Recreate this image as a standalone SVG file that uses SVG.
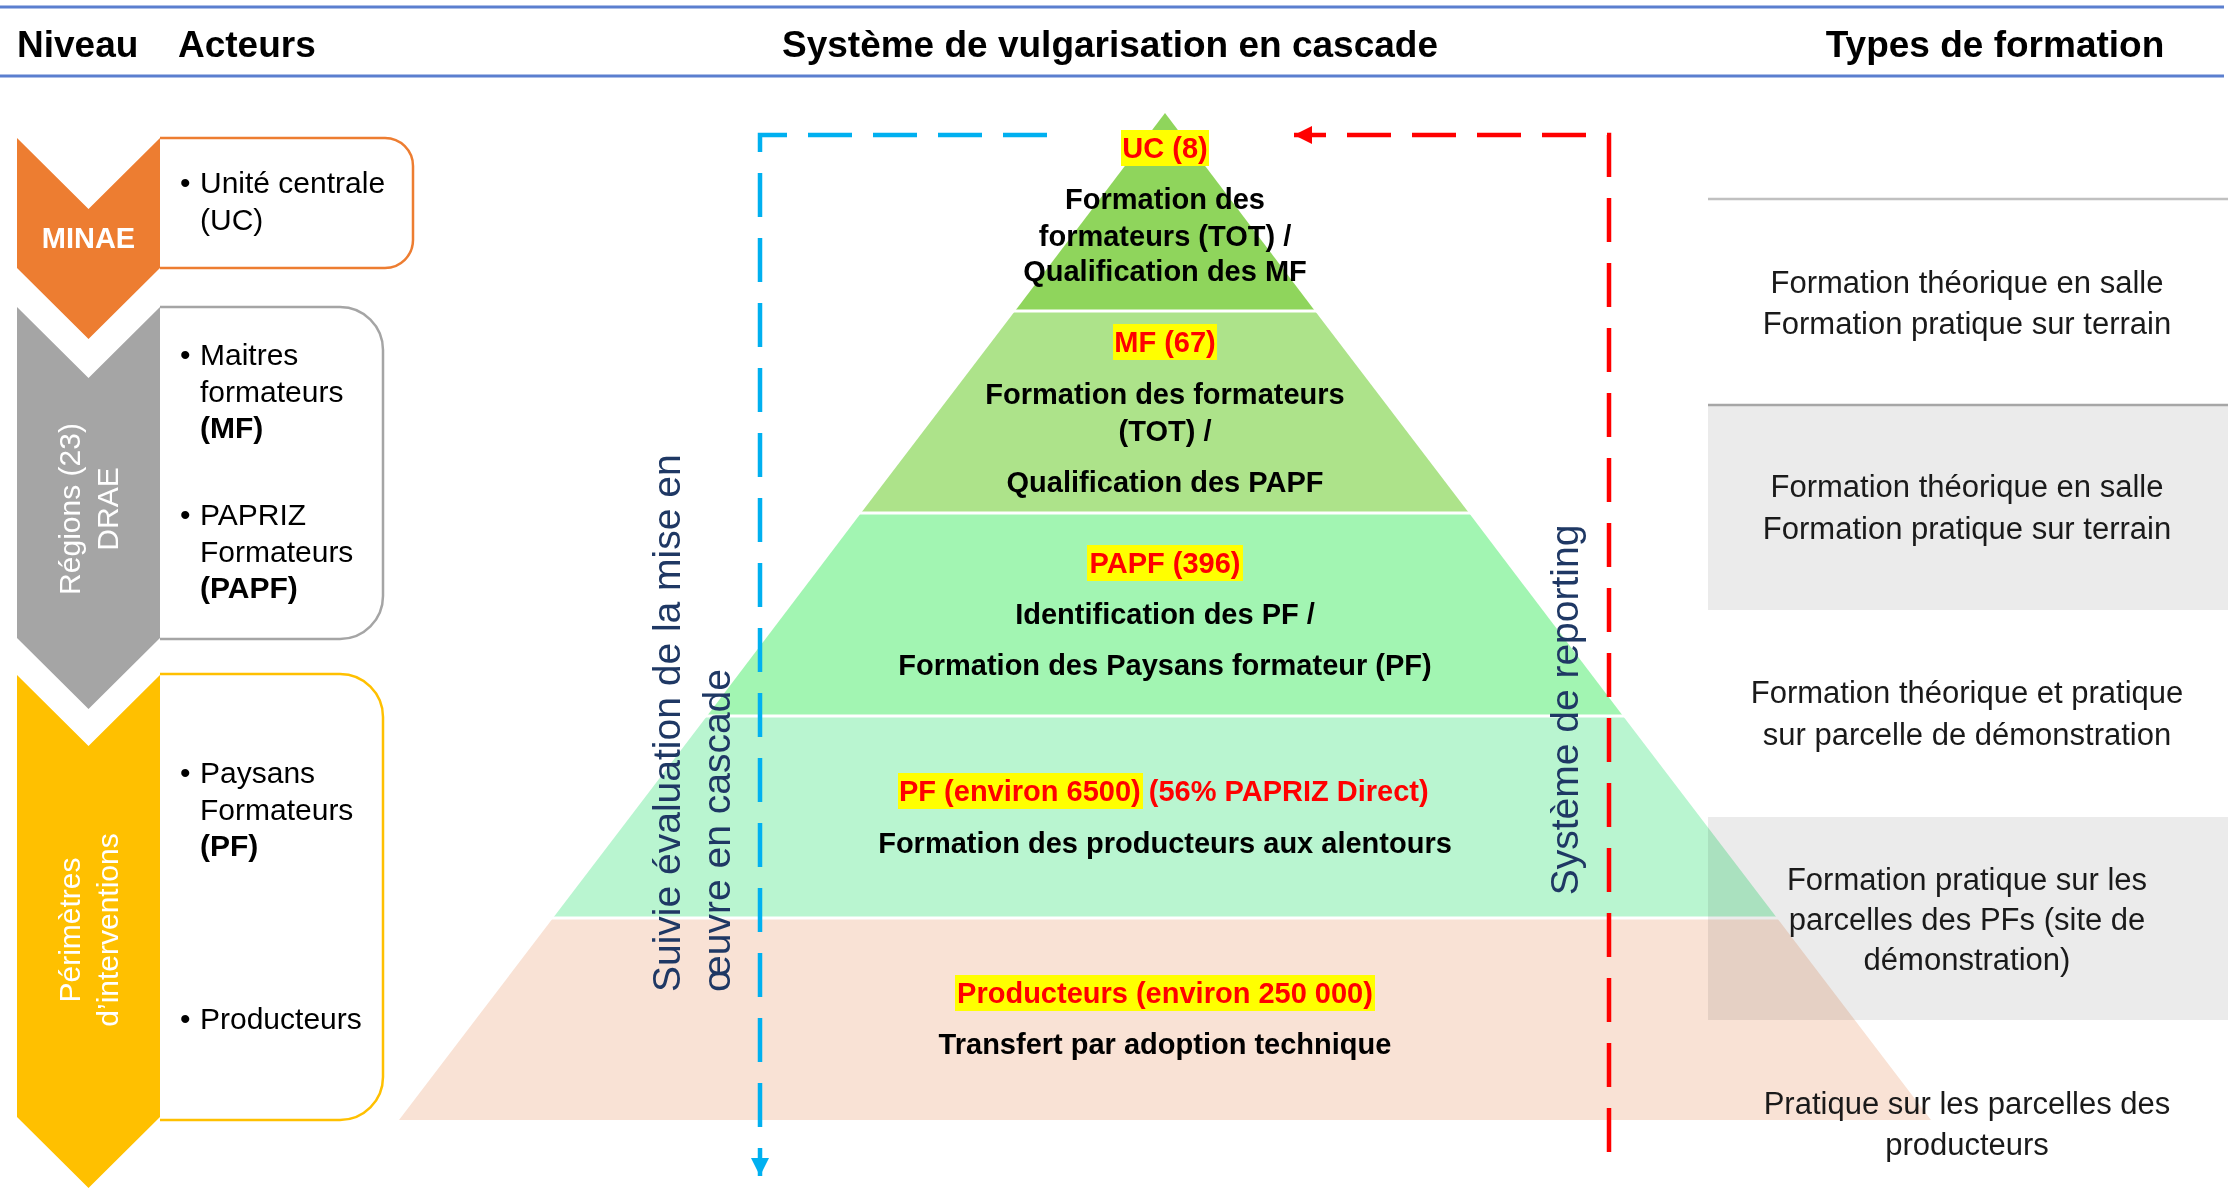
<svg xmlns="http://www.w3.org/2000/svg" width="2228" height="1197" viewBox="0 0 2228 1197">
<style>
  text { font-family: "Liberation Sans", Arial, sans-serif; }
  .hdr { font-size: 37px; font-weight: bold; fill: #000; }
  .act { font-size: 30px; fill: #000; }
  .b { font-weight: bold; }
  .lvl { font-size: 30px; fill: #fff; text-anchor: middle; }
  .pt { font-size: 29px; font-weight: bold; fill: #000; text-anchor: middle; }
  .ptl { font-size: 29px; font-weight: bold; text-anchor: start; }
  .red { fill: #ff0000; }
  .hl { fill: #ffff00; }
  .rt { font-size: 31px; fill: #1a1a1a; text-anchor: middle; }
  .vt { font-size: 39px; fill: #1f3864; }
  .gbox { fill: #ebebeb; mix-blend-mode: multiply; }
  .sep { stroke: #ffffff; stroke-width: 3; }
</style>
<defs>
  <marker id="arrBlue" viewBox="0 0 10 10" refX="10" refY="5" markerWidth="18" markerHeight="18" markerUnits="userSpaceOnUse" orient="auto">
    <path d="M0,0 L10,5 L0,10 z" fill="#00b0f0"/>
  </marker>
  <marker id="arrRed" viewBox="0 0 10 10" refX="10" refY="5" markerWidth="18" markerHeight="18" markerUnits="userSpaceOnUse" orient="auto">
    <path d="M0,0 L10,5 L0,10 z" fill="#ff0000"/>
  </marker>
</defs>

<!-- header -->
<g id="header">
  <line x1="0" y1="7" x2="2224" y2="7" stroke="#5b7fcf" stroke-width="3"/>
  <line x1="0" y1="76" x2="2224" y2="76" stroke="#5b7fcf" stroke-width="3"/>
  <text class="hdr" x="17" y="57">Niveau</text>
  <text class="hdr" x="178" y="57">Acteurs</text>
  <text class="hdr" x="1110" y="57" text-anchor="middle">Système de vulgarisation en cascade</text>
  <text class="hdr" x="1995" y="57" text-anchor="middle">Types de formation</text>
</g>

<!-- pyramid -->
<g id="pyramid">
  <polygon id="tier-uc" points="1165,113 1315,311 1015,311" fill="#8fd55c"/>
  <polygon id="tier-mf" points="1015,311 1315,311 1469,513 861,513" fill="#ade38a"/>
  <polygon id="tier-papf" points="861,513 1469,513 1623,716 707,716" fill="#a2f5b2"/>
  <polygon id="tier-pf" points="707,716 1623,716 1777,918 553,918" fill="#b9f5d0"/>
  <polygon id="tier-prod" points="553,918 1777,918 1931,1120 399,1120" fill="#f9e2d5"/>
  <line class="sep" x1="1010" y1="311" x2="1320" y2="311"/>
  <line class="sep" x1="856" y1="513" x2="1474" y2="513"/>
  <line class="sep" x1="702" y1="716" x2="1628" y2="716"/>
  <line class="sep" x1="548" y1="918" x2="1782" y2="918"/>
</g>

<!-- right column: types de formation -->
<g id="types">
  <line x1="1708" y1="199" x2="2228" y2="199" stroke="#c0c0c0" stroke-width="2.5"/>
  <rect class="gbox" x="1708" y="405" width="520" height="205"/>
  <line x1="1708" y1="405" x2="2228" y2="405" stroke="#a6a6a6" stroke-width="2.5"/>
  <rect class="gbox" x="1708" y="817" width="520" height="203"/>
  <g id="type1">
    <text class="rt" x="1967" y="293">Formation théorique en salle</text>
    <text class="rt" x="1967" y="334">Formation pratique sur terrain</text>
  </g>
  <g id="type2">
    <text class="rt" x="1967" y="497">Formation théorique en salle</text>
    <text class="rt" x="1967" y="539">Formation pratique sur terrain</text>
  </g>
  <g id="type3">
    <text class="rt" x="1967" y="703">Formation théorique et pratique</text>
    <text class="rt" x="1967" y="745">sur parcelle de démonstration</text>
  </g>
  <g id="type4">
    <text class="rt" x="1967" y="890">Formation pratique sur les</text>
    <text class="rt" x="1967" y="930">parcelles des PFs (site de</text>
    <text class="rt" x="1967" y="970">démonstration)</text>
  </g>
  <g id="type5">
    <text class="rt" x="1967" y="1114">Pratique sur les parcelles des</text>
    <text class="rt" x="1967" y="1155">producteurs</text>
  </g>
</g>

<!-- connectors -->
<g id="connectors" fill="none" stroke-width="4.5">
  <path id="suivi" d="M1047,135 H760 V1176" stroke="#00b0f0" stroke-dasharray="44 21" marker-end="url(#arrBlue)"/>
  <path id="reporting" d="M1609,1152 V135 H1294" stroke="#ff0000" stroke-dasharray="44 21" marker-end="url(#arrRed)"/>
</g>

<!-- pyramid labels -->
<g id="pyr-uc">
  <rect class="hl" x="1121" y="130" width="88" height="36"/>
  <text class="pt red" x="1165" y="158">UC (8)</text>
  <text class="pt" x="1165" y="209">Formation des</text>
  <text class="pt" x="1165" y="246">formateurs (TOT) /</text>
  <text class="pt" x="1165" y="281">Qualification des MF</text>
</g>
<g id="pyr-mf">
  <rect class="hl" x="1113" y="324" width="104" height="36"/>
  <text class="pt red" x="1165" y="352">MF (67)</text>
  <text class="pt" x="1165" y="404">Formation des formateurs</text>
  <text class="pt" x="1165" y="441">(TOT) /</text>
  <text class="pt" x="1165" y="492">Qualification des PAPF</text>
</g>
<g id="pyr-papf">
  <rect class="hl" x="1087" y="545" width="156" height="36"/>
  <text class="pt red" x="1165" y="573">PAPF (396)</text>
  <text class="pt" x="1165" y="624">Identification des PF /</text>
  <text class="pt" x="1165" y="675">Formation des Paysans formateur (PF)</text>
</g>
<g id="pyr-pf">
  <rect class="hl" x="898" y="773" width="245" height="36"/>
  <text class="ptl red" x="899" y="801">PF (environ 6500) (56% PAPRIZ Direct)</text>
  <text class="pt" x="1165" y="853">Formation des producteurs aux alentours</text>
</g>
<g id="pyr-prod">
  <rect class="hl" x="955" y="975" width="420" height="36"/>
  <text class="pt red" x="1165" y="1003">Producteurs (environ 250 000)</text>
  <text class="pt" x="1165" y="1054">Transfert par adoption technique</text>
</g>

<!-- vertical labels -->
<g id="label-suivi">
  <text class="vt" transform="translate(680,992) rotate(-90)">Suivie évaluation de la mise en</text>
  <text class="vt" transform="translate(730,992) rotate(-90)">œuvre en cascade</text>
</g>
<g id="label-reporting">
  <text class="vt" transform="translate(1578,710) rotate(-90)" text-anchor="middle">Système de reporting</text>
</g>

<!-- level 1 -->
<g id="niveau-minae">
  <path d="M160,138 H385 A28,28 0 0 1 413,166 V240 A28,28 0 0 1 385,268 H160" fill="#fff" stroke="#ed7d31" stroke-width="2.5"/>
  <path d="M17,138 L88.5,209 L160,138 V268 L88.5,339 L17,268 Z" fill="#ed7d31"/>
  <text class="lvl b" x="88.5" y="248" style="font-size:29px">MINAE</text>
  <text class="act" x="180" y="193">•</text>
  <text class="act" x="200" y="193">Unité centrale</text>
  <text class="act" x="200" y="230">(UC)</text>
</g>

<!-- level 2 -->
<g id="niveau-regions">
  <path d="M160,307 H340 A43,43 0 0 1 383,350 V596 A43,43 0 0 1 340,639 H160" fill="#fff" stroke="#a5a5a5" stroke-width="2.5"/>
  <path d="M17,307 L88.5,378 L160,307 V638 L88.5,709 L17,638 Z" fill="#a5a5a5"/>
  <text class="lvl" transform="translate(80,509) rotate(-90)">Régions (23)</text>
  <text class="lvl" transform="translate(118,509) rotate(-90)">DRAE</text>
  <text class="act" x="180" y="365">•</text>
  <text class="act" x="200" y="365">Maitres</text>
  <text class="act" x="200" y="402">formateurs</text>
  <text class="act b" x="200" y="438">(MF)</text>
  <text class="act" x="180" y="525">•</text>
  <text class="act" x="200" y="525">PAPRIZ</text>
  <text class="act" x="200" y="562">Formateurs</text>
  <text class="act b" x="200" y="598">(PAPF)</text>
</g>

<!-- level 3 -->
<g id="niveau-perimetres">
  <path d="M160,674 H340 A43,43 0 0 1 383,717 V1077 A43,43 0 0 1 340,1120 H160" fill="#fff" stroke="#ffc000" stroke-width="2.5"/>
  <path d="M17,675 L88.5,746 L160,675 V1117 L88.5,1188 L17,1117 Z" fill="#ffc000"/>
  <text class="lvl" transform="translate(80,930) rotate(-90)">Périmètres</text>
  <text class="lvl" transform="translate(118,930) rotate(-90)">d’interventions</text>
  <text class="act" x="180" y="783">•</text>
  <text class="act" x="200" y="783">Paysans</text>
  <text class="act" x="200" y="820">Formateurs</text>
  <text class="act b" x="200" y="856">(PF)</text>
  <text class="act" x="180" y="1029">•</text>
  <text class="act" x="200" y="1029">Producteurs</text>
</g>
</svg>
